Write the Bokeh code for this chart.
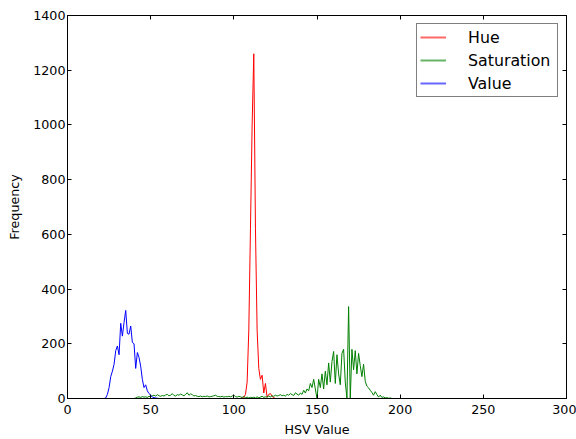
from bokeh.plotting import figure
from bokeh.models import Range1d, FixedTicker, LinearAxis, Legend, LegendItem
from bokeh.embed import file_html
from bokeh.resources import INLINE

# ---- data (histogram counts, bins 0..255) ----
n_bins = 256

hue_start = 104
hue_counts = [0, 2, 5, 15, 60, 250, 620, 1000, 1260, 620, 250, 110, 70, 85,
              20, 55, 5, 15, 18, 8, 3, 0]

sat_start = 40
sat_counts = [
    0, 2, 5, 6, 4, 7, 5, 6, 4, 8,            # 40-49
    6, 10, 12, 9, 14, 10, 8, 11, 9, 13,      # 50-59
    15, 10, 12, 18, 11, 9, 14, 12, 16, 13,   # 60-69
    10, 15, 21, 12, 17, 14, 9, 11, 8, 7,     # 70-79
    9, 6, 8, 7, 9, 6, 7, 8, 10, 12,          # 80-89
    8, 7, 6, 8, 5, 7, 6, 8, 6, 9,            # 90-99
    12, 7, 5, 8, 6, 4, 7, 3, 5, 2,           # 100-109
    4, 3, 5, 2, 6, 3, 5, 8, 4, 6,            # 110-119
    5, 9, 6, 10, 8, 12, 9, 11, 14, 10,       # 120-129
    12, 9, 15, 12, 18, 14, 11, 21, 16, 12,   # 130-139
    20, 15, 30, 20, 35, 28, 55, 40, 70, 35,  # 140-149
    0, 70, 40, 90, 35, 100, 50, 130, 60, 135,  # 150-159
    172, 55, 160, 90, 50, 165, 180, 60, 0, 336,  # 160-169
    0, 180, 105, 175, 90, 165, 120, 80, 125, 63,  # 170-179
    45, 39, 30, 22, 12, 25, 15, 5, 12, 4,    # 180-189
    6, 2, 3, 1, 2, 0,                        # 190-195
]

val_start = 22
val_counts = [0, 2, 15, 40, 80, 100, 125, 175, 192, 160, 275, 228, 278, 322,
              238, 235, 265, 205, 200, 110, 168, 150, 118, 70, 40, 50, 28, 18,
              12, 6, 3, 2, 1, 0]

series_names = ["Hue", "Saturation", "Value"]
series_colors = ["#ff0000", "#008000", "#0000ff"]

x_ticks = [0, 50, 100, 150, 200, 250, 300]
y_ticks = [0, 200, 400, 600, 800, 1000, 1200, 1400]


def full_hist(start, counts):
    h = [0] * n_bins
    for i, c in enumerate(counts):
        h[start + i] = c
    return h


bins = list(range(n_bins))
hists = [full_hist(hue_start, hue_counts),
         full_hist(sat_start, sat_counts),
         full_hist(val_start, val_counts)]

FONT = "DejaVu Sans"

p = figure(width=576, height=439,
           x_range=Range1d(0, 300), y_range=Range1d(0, 1400),
           output_backend="svg", toolbar_location=None,
           min_border_left=67, min_border_right=10,
           min_border_top=15, min_border_bottom=40)

p.background_fill_color = "white"
p.border_fill_color = "white"
p.outline_line_color = "black"
p.outline_line_width = 1
p.xgrid.visible = False
p.ygrid.visible = False

for h, col in zip(hists, series_colors):
    p.line(bins, h, line_color=col, line_width=1)

# legend swatches: empty multi_line renderers, drawn only inside the legend
legend_renderers = [p.multi_line([[]], [[]], line_color=col, line_width=2,
                                 line_alpha=0.6)
                    for col in series_colors]


def style_axis(ax, ticks, show_labels):
    ax.ticker = FixedTicker(ticks=ticks)
    ax.major_tick_in = 4
    ax.major_tick_out = 0
    ax.minor_tick_line_color = None
    ax.axis_line_color = "black"
    ax.major_tick_line_color = "black"
    ax.major_label_text_font = FONT
    ax.major_label_text_color = "black"
    ax.axis_label_text_font = FONT
    ax.axis_label_text_font_style = "normal"
    ax.axis_label_text_color = "black"
    if show_labels:
        ax.major_label_text_font_size = "12.7px"
        ax.axis_label_text_font_size = "12.7px"
    else:
        ax.major_label_overrides = {t: "" for t in ticks}
        ax.major_label_text_font_size = "1px"
        ax.major_label_standoff = 0


style_axis(p.xaxis[0], x_ticks, True)
style_axis(p.yaxis[0], y_ticks, True)
p.xaxis[0].axis_label = "HSV Value"
p.yaxis[0].axis_label = "Frequency"
p.xaxis[0].major_label_standoff = 6
p.xaxis[0].axis_label_standoff = 5
p.yaxis[0].major_label_standoff = 2
p.yaxis[0].axis_label_standoff = 8

top_ax = LinearAxis()
style_axis(top_ax, x_ticks, False)
p.add_layout(top_ax, "above")
right_ax = LinearAxis()
style_axis(right_ax, y_ticks, False)
p.add_layout(right_ax, "right")

legend = Legend(items=[LegendItem(label=n, renderers=[r])
                       for n, r in zip(series_names, legend_renderers)],
                location="top_right")
legend.margin = 8
legend.padding = 3
legend.spacing = 3
legend.glyph_width = 26
legend.glyph_height = 20
legend.label_height = 20
legend.label_width = 86
legend.label_standoff = 22
legend.label_text_font = FONT
legend.label_text_font_size = "15.8px"
legend.label_text_color = "black"
legend.border_line_color = "black"
legend.border_line_width = 1
legend.background_fill_color = "white"
legend.background_fill_alpha = 1
p.add_layout(legend)

open("out.html", "w").write(file_html(p, INLINE))
